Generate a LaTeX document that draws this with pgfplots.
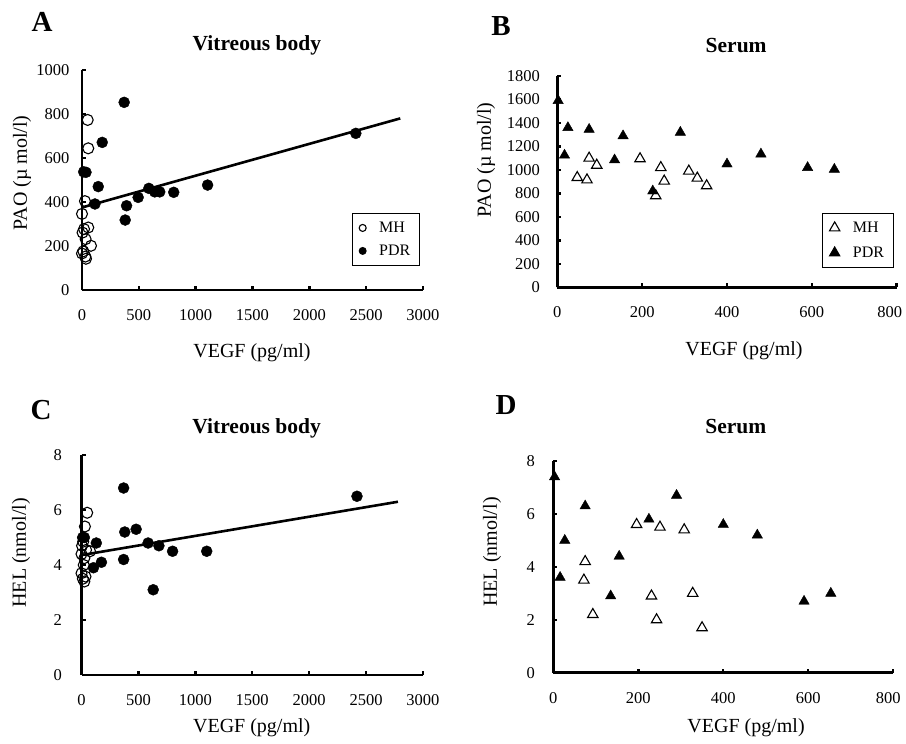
\documentclass[border=0pt]{standalone}
\usepackage{fontspec}
\setmainfont{Liberation Serif}
\usepackage{pgfplots}
\pgfplotsset{compat=1.18}

\newcommand\ticksize{\fontsize{16.5}{19}\selectfont}
\newcommand\legsize{\fontsize{16}{19}\selectfont}
\newcommand\labsize{\fontsize{20}{24}\selectfont}
\newcommand\titsize{\bfseries\fontsize{21.5}{25}\selectfont}

\pgfplotsset{
  panel/.style={
    scale only axis, anchor=south west, clip=false,
    axis lines=left, axis line style={line width=2.6pt,-},
    tick align=inside, major tick length=4pt,
    tick style={line width=2.4pt, black},
    xmin=0, ymin=0,
    scaled ticks=false,
    /pgf/number format/assume math mode=true,
    /pgf/number format/set thousands separator={},
    ticklabel style={font=\ticksize},
    xticklabel shift=16pt,
    legend cell align=left,
    legend style={draw=black, line width=0.9pt, font=\legsize,
      anchor=north west, inner xsep=7pt, inner ysep=6.5pt, row sep=7pt,
      column sep=11pt},
    legend image code/.code={\draw[mark repeat=2,mark phase=2,##1]
      plot coordinates {(0pt,0pt) (5pt,0pt) (10pt,0pt)};},
  },
  mh/.style={only marks, mark=o, mark size=5.5pt, black,
    mark options={line width=1.1pt}},
  pdr/.style={only marks, mark=*, mark size=5.5pt, black},
  mht/.style={only marks, mark=triangle, mark size=6pt, black,
    mark options={line width=1.1pt}},
  pdrt/.style={only marks, mark=triangle*, mark size=6pt, black},
  fit/.style={line width=2.6pt, black, no marks},
}

\begin{document}
\begin{tikzpicture}
\path[use as bounding box] (0pt,0pt) rectangle (906pt,-744pt);

% A
\begin{axis}[panel, at={(82pt,-290pt)}, width=341pt, height=220pt,
  xmax=3000, ymax=1000, xtick={0,500,...,3000}, ytick={0,200,...,1000},
  yticklabel shift=9pt,
  title={Vitreous body},
  every axis title/.style={at={(rel axis cs:0.513,1.114)}, anchor=center, font=\titsize},
  xlabel={VEGF (pg/ml)},
  every axis x label/.style={at={(rel axis cs:0.4985,-0.286)}, anchor=center, font=\labsize},
  ylabel={PAO (\textmu\ mol/l)},
  every axis y label/.style={at={(rel axis cs:-0.176,0.532)}, rotate=90, anchor=center, font=\labsize},
  legend style={at={(rel axis cs:0.791,0.35)}},
  legend image post style={mark size=3.5pt}]
\addplot[mh] coordinates {(50,773) (55,644) (26,404) (0,346) (55,284) (18,277)
  (5,261) (32,231) (79,201) (12,176) (0,166) (30,152) (35,142)};
\addplot[pdr] coordinates {(371,853) (178,671) (15,537) (35,535) (143,470)
  (114,391) (392,383) (380,318) (494,421) (588,462) (640,446) (684,446)
  (807,444) (1105,477) (2409,712)};
\addplot[fit, forget plot] coordinates {(0,375) (2800,780)};
\legend{MH,PDR}
\end{axis}

% B
\begin{axis}[panel, at={(557.3pt,-287.3pt)}, width=339.4pt, height=211.3pt,
  xmax=800, ymax=1800, xtick={0,200,...,800}, ytick={0,200,...,1800},
  xticklabels={0,200,400,600,\hspace*{-14pt}800},
  yticklabel shift=14pt,
  title={Serum},
  every axis title/.style={at={(rel axis cs:0.527,1.142)}, anchor=center, font=\titsize},
  xlabel={VEGF (pg/ml)},
  every axis x label/.style={at={(rel axis cs:0.55,-0.301)}, anchor=center, font=\labsize},
  ylabel={PAO (\textmu\ mol/l)},
  every axis y label/.style={at={(rel axis cs:-0.21,0.602)}, rotate=90, anchor=center, font=\labsize},
  legend style={at={(rel axis cs:0.78,0.352)}, row sep=9pt}]
\addplot[mht] coordinates {(47,935) (70,915) (75,1100) (93,1040) (195,1095)
  (244,1020) (252,905) (232,780) (310,990) (330,930) (352,865)};
\addplot[pdrt] coordinates {(2,1590) (25,1360) (75,1345) (155,1290) (290,1320)
  (17,1125) (135,1085) (225,820) (400,1050) (480,1135) (590,1020) (653,1005)};
\legend{MH,PDR}
\end{axis}

% C
\begin{axis}[panel, at={(81.5pt,-675pt)}, width=341.5pt, height=220pt,
  xmax=3000, ymax=8, xtick={0,500,...,3000}, ytick={0,2,...,8},
  yticklabel shift=16pt,
  title={Vitreous body},
  every axis title/.style={at={(rel axis cs:0.513,1.123)}, anchor=center, font=\titsize},
  xlabel={VEGF (pg/ml)},
  every axis x label/.style={at={(rel axis cs:0.4985,-0.241)}, anchor=center, font=\labsize},
  ylabel={HEL (nmol/l)},
  every axis y label/.style={at={(rel axis cs:-0.177,0.555)}, rotate=90, anchor=center, font=\labsize}]
\addplot[mh] coordinates {(50,5.9) (30,5.4) (15,4.85) (5,4.7) (40,4.55) (75,4.5)
  (0,4.4) (25,4.25) (20,4.0) (0,3.7) (35,3.58) (12,3.5) (25,3.4)};
\addplot[pdr] coordinates {(370,6.8) (380,5.2) (480,5.3) (585,4.8) (680,4.7)
  (800,4.5) (1100,4.5) (630,3.1) (370,4.2) (130,4.8) (175,4.1) (105,3.9)
  (10,5.0) (25,5.0) (2420,6.5)};
\addplot[fit] coordinates {(0,4.36) (2780,6.3)};
\end{axis}

% D
\begin{axis}[panel, at={(553.3pt,-672.7pt)}, width=340pt, height=211.7pt,
  xmax=800, ymax=8, xtick={0,200,...,800}, ytick={0,2,...,8},
  xticklabels={0,200,400,600,\hspace*{-10pt}800},
  yticklabel shift=15pt,
  title={Serum},
  every axis title/.style={at={(rel axis cs:0.537,1.161)}, anchor=center, font=\titsize},
  xlabel={VEGF (pg/ml)},
  every axis x label/.style={at={(rel axis cs:0.567,-0.261)}, anchor=center, font=\labsize},
  ylabel={HEL (nmol/l)},
  every axis y label/.style={at={(rel axis cs:-0.18,0.57)}, rotate=90, anchor=center, font=\labsize}]
\addplot[mht] coordinates {(75,4.2) (72,3.5) (93,2.2) (196,5.6) (251,5.5)
  (308,5.4) (231,2.9) (243,2.0) (328,3.0) (350,1.7)};
\addplot[pdrt] coordinates {(3,7.4) (75,6.3) (27,5.0) (16,3.6) (155,4.4)
  (135,2.9) (225,5.8) (290,6.7) (400,5.6) (480,5.2) (590,2.7) (653,3.0)};
\end{axis}

\node[font=\bfseries\fontsize{29}{32}\selectfont] at (42pt,-22pt) {A};
\node[font=\bfseries\fontsize{29}{32}\selectfont] at (501pt,-26pt) {B};
\node[font=\bfseries\fontsize{29}{32}\selectfont] at (41pt,-410pt) {C};
\node[font=\bfseries\fontsize{29}{32}\selectfont] at (506pt,-405pt) {D};
\end{tikzpicture}
\end{document}
